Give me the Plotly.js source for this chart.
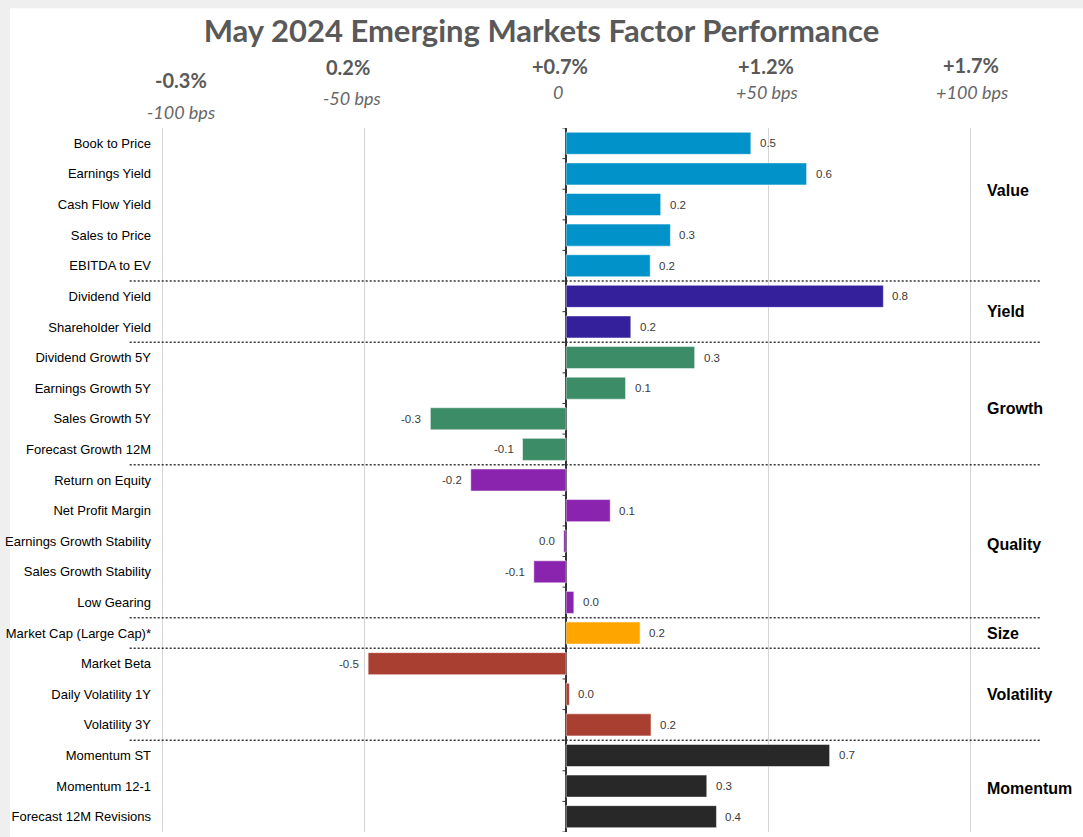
<!DOCTYPE html>
<html>
<head>
<meta charset="utf-8">
<script src="https://cdn.plot.ly/plotly-3.0.1.min.js"></script>
<style>html,body{margin:0;padding:0;background:#efefef;}#chart{width:1083px;height:837px;}</style>
</head>
<body>
<div id="chart"></div>
<script>
// ---- data ----
const factors = ["Book to Price","Earnings Yield","Cash Flow Yield","Sales to Price","EBITDA to EV",
  "Dividend Yield","Shareholder Yield",
  "Dividend Growth 5Y","Earnings Growth 5Y","Sales Growth 5Y","Forecast Growth 12M",
  "Return on Equity","Net Profit Margin","Earnings Growth Stability","Sales Growth Stability","Low Gearing",
  "Market Cap (Large Cap)*",
  "Market Beta","Daily Volatility 1Y","Volatility 3Y",
  "Momentum ST","Momentum 12-1","Forecast 12M Revisions"];
const valuesBps = [45.7, 59.5, 23.4, 25.8, 20.8,
  78.5, 16.0,
  31.8, 14.7, -33.6, -10.8,
  -23.6, 10.9, -0.6, -8.0, 1.9,
  18.3,
  -49.0, 0.8, 21.0,
  65.2, 34.8, 37.2];
const valueLabels = ["0.5","0.6","0.2","0.3","0.2",
  "0.8","0.2",
  "0.3","0.1","-0.3","-0.1",
  "-0.2","0.1","0.0","-0.1","0.0",
  "0.2",
  "-0.5","0.0","0.2",
  "0.7","0.3","0.4"];
const factorGroup = ["Value","Value","Value","Value","Value",
  "Yield","Yield",
  "Growth","Growth","Growth","Growth",
  "Quality","Quality","Quality","Quality","Quality",
  "Size",
  "Volatility","Volatility","Volatility",
  "Momentum","Momentum","Momentum"];
const groups = ["Value","Yield","Growth","Quality","Size","Volatility","Momentum"];
const tickBps = [-100, -50, 0, 50, 100];
const tickPct = ["-0.3%", "0.2%", "+0.7%", "+1.2%", "+1.7%"];
const tickBpsText = ["-100 bps", "-50 bps", "0", "+50 bps", "+100 bps"];

// ---- styles ----
const groupColors = {Value:"#0092C9", Yield:"#35209C", Growth:"#3B8C67", Quality:"#8A23AD",
  Size:"#FFA500", Volatility:"#A93F30", Momentum:"#282828"};
const groupLabelPos = {Value:1.53, Yield:5.48, Growth:8.65, Quality:13.12, Size:16.02, Volatility:18.0, Momentum:21.08};
const pctPos = {xshift:[19,-16,-6,-2,1], yshift:[48,61,62,62,63]};
const bpsPos = {xshift:[19,-12,-8,-1,2], yshift:[16,30,36,36,36]};

const trace = {
  type: "bar", orientation: "h",
  y: factors, x: valuesBps,
  marker: {color: factorGroup.map(g => groupColors[g]), line: {color: "rgba(255,255,255,0.5)", width: 1}},
  hoverinfo: "y+x"
};

const annotations = [];
factors.forEach((f, i) => {
  const v = valuesBps[i];
  annotations.push({x: v, y: f, xref: "x", yref: "y", text: valueLabels[i], showarrow: false,
    xanchor: v >= 0 ? "left" : "right", xshift: v >= 0 ? 7 : -7,
    font: {family: "Liberation Sans, Arial", size: 11.5, color: "#3a3a3a"}});
});
tickBps.forEach((t, i) => {
  annotations.push({x: t, y: 1, xref: "x", yref: "paper", text: "<b>" + tickPct[i] + "</b>", showarrow: false,
    xanchor: "center", yanchor: "middle", xshift: pctPos.xshift[i], yshift: pctPos.yshift[i],
    font: {family: "Lato, Open Sans", size: 20, color: "#595959"}});
  annotations.push({x: t, y: 1, xref: "x", yref: "paper", text: "<i>" + tickBpsText[i] + "</i>", showarrow: false,
    xanchor: "center", yanchor: "middle", xshift: bpsPos.xshift[i], yshift: bpsPos.yshift[i],
    font: {family: "Lato, Open Sans", size: 18, color: "#666666"}});
});
groups.forEach(g => {
  annotations.push({x: 0.9345, y: groupLabelPos[g], xref: "paper", yref: "y", text: "<b>" + g + "</b>",
    showarrow: false, xanchor: "left", yanchor: "middle",
    font: {family: "Liberation Sans, Arial", size: 16, color: "#000"}});
});

const shapes = [];
// white page panel over grey frame
shapes.push({type: "rect", xref: "paper", yref: "paper", x0: -0.1672, x1: 1.06, y0: -0.03, y1: 1.17,
  fillcolor: "#ffffff", line: {width: 0}, layer: "below"});
// group separators
for (let i = 1; i < factors.length; i++) {
  if (factorGroup[i] !== factorGroup[i - 1]) {
    shapes.push({type: "line", xref: "paper", yref: "y", x0: -0.032, x1: 0.997, y0: i - 0.5, y1: i - 0.5,
      line: {color: "#333333", width: 1.5, dash: "2px,2px"}});
  }
}
// small tick marks on the category axis
for (let i = 0; i <= factors.length; i++) {
  shapes.push({type: "line", xref: "x", yref: "y", x0: -0.9, x1: 0, y0: i - 0.5, y1: i - 0.5,
    line: {color: "#333333", width: 1}});
}

const layout = {
  width: 1083, height: 837,
  margin: {l: 158, r: 40, t: 128, b: 5},
  paper_bgcolor: "#efefef", plot_bgcolor: "rgba(0,0,0,0)",
  title: {text: "<b>May 2024 Emerging Markets Factor Performance</b>", xref: "container", x: 0.5,
    yref: "container", y: 1 - 31 / 837, yanchor: "middle", xanchor: "center",
    font: {family: "Lato, Open Sans", size: 31, color: "#595959"}},
  xaxis: {range: [-101, 118], tickvals: tickBps, showticklabels: false, showgrid: true,
    gridcolor: "#d4d4d4", gridwidth: 1, zeroline: true, zerolinecolor: "#333333", zerolinewidth: 1.5,
    showline: false, fixedrange: true},
  yaxis: {type: "category", categoryorder: "array", categoryarray: factors, range: [22.5, -0.5],
    showgrid: false, zeroline: false, showline: false, ticks: "", ticklabelstandoff: 6,
    tickfont: {family: "Liberation Sans, Arial", size: 13, color: "#000000"}, fixedrange: true},
  bargap: 0.28,
  showlegend: false,
  annotations: annotations,
  shapes: shapes
};

Plotly.newPlot("chart", [trace], layout, {displayModeBar: false, staticPlot: true});
</script>
</body>
</html>
